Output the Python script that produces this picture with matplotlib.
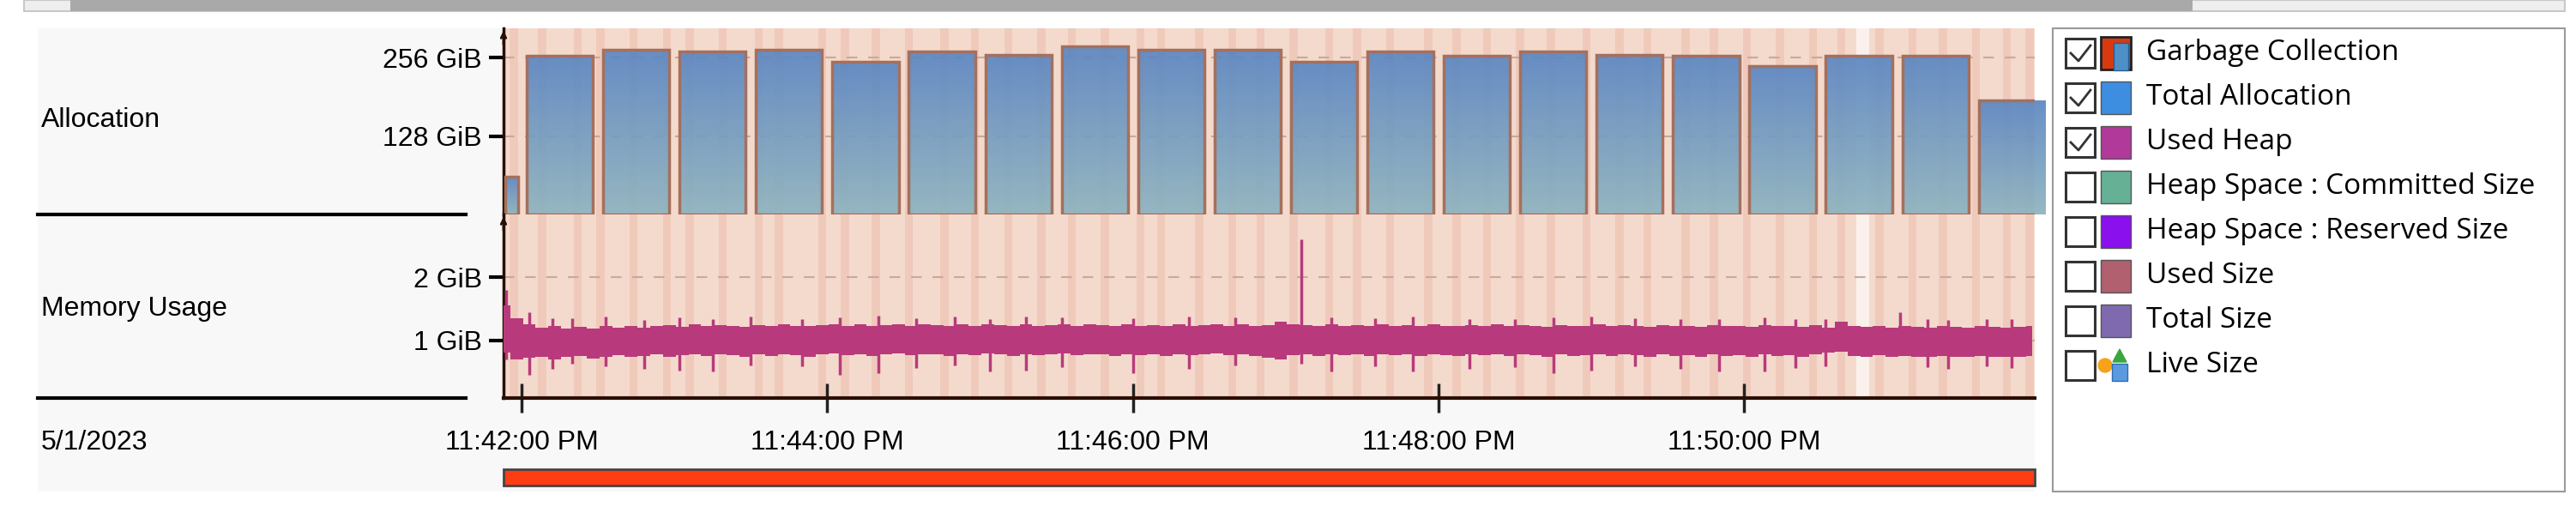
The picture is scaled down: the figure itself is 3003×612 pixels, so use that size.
import matplotlib
matplotlib.use("Agg")
import matplotlib.pyplot as plt
import numpy as np
from matplotlib.patches import Rectangle, Circle, Polygon

W, H = 3003, 612
FONT = "Liberation Sans"
UI_FONT = "Open Sans"

# ---- données (temps en secondes depuis 23:42:00) ----
BAR_T = [-4] + [15 + 30 * i for i in range(20)]
BAR_W = [5] + [26] * 20
BAR_GIB = [62, 259, 269, 266, 269, 250, 266, 261, 274, 269, 269,
           250, 266, 259, 266, 261, 259, 243, 259, 259, 186]

MEM_T0, MEM_STEP = -7, 5
MEM_HIGH = [1.55, 1.35, 1.25, 1.20, 1.22, 1.18, 1.21, 1.19, 1.22, 1.20,
            1.23, 1.20, 1.22, 1.24, 1.21, 1.25, 1.22, 1.24, 1.23, 1.21,
            1.24, 1.22, 1.25, 1.23, 1.22, 1.24, 1.26, 1.23, 1.25, 1.22,
            1.24, 1.26, 1.23, 1.25, 1.24, 1.22, 1.25, 1.23, 1.26, 1.24,
            1.22, 1.25, 1.23, 1.24, 1.26, 1.23, 1.25, 1.24, 1.22, 1.25,
            1.23, 1.24, 1.22, 1.25, 1.23, 1.24, 1.26, 1.23, 1.25, 1.22,
            1.24, 1.30, 1.26, 1.24, 1.22, 1.25, 1.23, 1.24, 1.22, 1.25,
            1.23, 1.24, 1.22, 1.25, 1.23, 1.22, 1.24, 1.23, 1.25, 1.22,
            1.24, 1.23, 1.21, 1.24, 1.22, 1.23, 1.25, 1.22, 1.24, 1.23,
            1.21, 1.24, 1.22, 1.23, 1.21, 1.24, 1.22, 1.23, 1.21, 1.24,
            1.22, 1.23, 1.21, 1.24, 1.20, 1.30, 1.22, 1.21, 1.23, 1.20,
            1.22, 1.21, 1.20, 1.22, 1.21, 1.20, 1.22, 1.21, 1.20, 1.21, 1.22]
MEM_LOW = [0.80, 0.70, 0.72, 0.74, 0.70, 0.73, 0.75, 0.71, 0.74, 0.76,
           0.73, 0.75, 0.77, 0.74, 0.76, 0.78, 0.75, 0.77, 0.76, 0.74,
           0.77, 0.75, 0.78, 0.76, 0.74, 0.77, 0.79, 0.76, 0.78, 0.75,
           0.77, 0.79, 0.76, 0.78, 0.77, 0.75, 0.78, 0.76, 0.79, 0.77,
           0.75, 0.78, 0.76, 0.77, 0.79, 0.76, 0.78, 0.77, 0.75, 0.78,
           0.76, 0.77, 0.75, 0.78, 0.76, 0.77, 0.79, 0.76, 0.78, 0.75,
           0.72, 0.70, 0.76, 0.77, 0.75, 0.78, 0.76, 0.77, 0.75, 0.78,
           0.76, 0.77, 0.75, 0.78, 0.76, 0.75, 0.77, 0.76, 0.78, 0.75,
           0.77, 0.76, 0.74, 0.77, 0.75, 0.76, 0.78, 0.75, 0.77, 0.76,
           0.74, 0.77, 0.75, 0.76, 0.74, 0.77, 0.75, 0.76, 0.74, 0.77,
           0.75, 0.76, 0.74, 0.77, 0.80, 0.82, 0.75, 0.74, 0.76, 0.73,
           0.75, 0.74, 0.73, 0.75, 0.74, 0.73, 0.75, 0.74, 0.73, 0.74, 0.75]
SPIKE_T = [-6, 3, 12, 20, 33, 48, 62, 75, 90, 110, 125, 140, 155, 170, 184,
           198, 212, 240, 262, 280, 306, 318, 335, 350, 372, 390, 405, 420,
           437, 455, 470, 488, 500, 512, 541, 552, 560, 575, 585]
SPIKE_LO = [0.70, 0.45, 0.55, 0.62, 0.58, 0.55, 0.52, 0.50, 0.60, 0.58,
            0.45, 0.48, 0.56, 0.60, 0.50, 0.52, 0.57, 0.47, 0.55, 0.60,
            0.62, 0.50, 0.58, 0.50, 0.55, 0.57, 0.48, 0.52, 0.58, 0.55,
            0.50, 0.50, 0.56, 0.58, 0.80, 0.57, 0.55, 0.58, 0.56]
SPIKE_HI = [1.80, 1.45, 1.35, 1.35, 1.38, 1.32, 1.36, 1.34, 1.38, 1.33,
            1.36, 1.39, 1.35, 1.37, 1.34, 1.38, 1.36, 1.35, 1.37, 1.36,
            2.60, 1.36, 1.35, 1.38, 1.34, 1.33, 1.36, 1.37, 1.35, 1.33,
            1.34, 1.36, 1.33, 1.34, 1.45, 1.33, 1.32, 1.34, 1.33]

GC_DARK = [-3, 8, 22, 31, 44, 57, 66, 79, 93, 101, 118, 127, 139, 152, 166,
           178, 191, 204, 216, 229, 243, 251, 266, 279, 290, 303, 317, 328,
           341, 356, 367, 379, 392, 404, 418, 431, 442, 457, 468, 481, 494,
           507, 518, 533, 546, 558, 571, 583, 592]
GC_GAP = (524, 529)

TIME_TICKS = [0, 120, 240, 360, 480]
TIME_LABELS = ["11:42:00 PM", "11:44:00 PM", "11:46:00 PM",
               "11:48:00 PM", "11:50:00 PM"]
XLIM = (-7.1, 594)

LEGEND = ["Garbage Collection", "Total Allocation", "Used Heap",
          "Heap Space : Committed Size", "Heap Space : Reserved Size",
          "Used Size", "Total Size", "Live Size"]
LEGEND_CHECKED = [True, True, True, False, False, False, False, False]
LEGEND_COLORS = ["#d83a10", "#3d8de0", "#b0399a", "#66b095", "#8a10ee",
                 "#b0606e", "#7f6ab0", None]

X0, X1 = 587, 2372


def px_axes(fig, x0, y0, x1, y1, **kw):
    return fig.add_axes([x0 / W, 1 - y1 / H, (x1 - x0) / W, (y1 - y0) / H], **kw)


fig = plt.figure(figsize=(W / 100, H / 100), dpi=100, facecolor="white")

# décor en pixels
bg = px_axes(fig, 0, 0, W, H)
bg.set_xlim(0, W)
bg.set_ylim(H, 0)
bg.axis("off")
bg.add_patch(Rectangle((44, 33), X1 - 44, 540, color="#f8f8f8", lw=0))
bg.add_patch(Rectangle((28, 0), 2962, 13, facecolor="#eeeeee", edgecolor="#c8c8c8", lw=1.5))
bg.add_patch(Rectangle((82, 0), 2474, 13, color="#a9a9a9", lw=0))
for y in (250, 464):
    bg.plot([44, 543], [y, y], color="black", lw=3)
bg.text(48, 140, "Allocation", family=FONT, fontsize=23, va="center")
bg.text(48, 360, "Memory Usage", family=FONT, fontsize=23, va="center")
bg.text(48, 516, "5/1/2023", family=FONT, fontsize=23, va="center")

# légende
bg.add_patch(Rectangle((2393, 33), 597, 540, facecolor="white", edgecolor="#9a9a9a", lw=1.5))
for i, (name, chk, col) in enumerate(zip(LEGEND, LEGEND_CHECKED, LEGEND_COLORS)):
    yc = 62 + 52 * i
    bg.add_patch(Rectangle((2408, yc - 17), 34, 34, facecolor="white", edgecolor="#333333", lw=2.2))
    if chk:
        bg.plot([2414, 2423, 2437], [yc, yc + 9, yc - 9], color="#333333", lw=2)
    if col is not None:
        bg.add_patch(Rectangle((2449, yc - 19), 35, 38, facecolor=col,
                               edgecolor="#222222" if i == 0 else "#555555", lw=2 if i == 0 else 1))
    if i == 0:
        bg.add_patch(Rectangle((2464, yc - 12), 17, 32, facecolor="#4f8fc8", edgecolor="#2a5d8f", lw=1))
    if col is None:
        bg.add_patch(Circle((2454, yc), 8, color="#f7a21b"))
        bg.add_patch(Rectangle((2462, yc - 2), 18, 20, facecolor="#5a9be0", edgecolor="#2f6db0", lw=1))
        bg.add_patch(Polygon([[2463, yc - 4], [2471, yc - 19], [2479, yc - 4]], color="#3ca63c"))
    bg.text(2502, yc, name, family=UI_FONT, fontsize=24, va="center")

# barre rouge
bg.add_patch(Rectangle((X0, 547), X1 - X0, 19, facecolor="#ff3c14", edgecolor="#444444", lw=2))

ax1 = px_axes(fig, X0, 33, X1, 250)
ax2 = px_axes(fig, X0, 250, X1, 464)


def fond(ax):
    ax.set_facecolor("#f4dacd")
    for t in GC_DARK:
        ax.axvspan(t - 1.6, t + 1.6, color="#ecbca8", alpha=0.5, lw=0)
    ax.axvspan(*GC_GAP, color="#fbf1ec", lw=0)
    ax.set_xlim(*XLIM)
    for s in ("top", "right"):
        ax.spines[s].set_visible(False)
    ax.spines["left"].set_color("#2a0e00")
    ax.spines["left"].set_linewidth(2.5)
    ax.tick_params(axis="y", direction="out", length=12, width=3,
                   labelsize=23, pad=6)
    for lab in ax.get_yticklabels():
        lab.set_family(FONT)
    lo, hi = ax.get_ylim()
    ax.annotate("", xy=(XLIM[0], hi), xytext=(XLIM[0], hi - 0.1 * (hi - lo)),
                arrowprops=dict(arrowstyle="->", color="#2a0e00", lw=2))


ax1.set_ylim(0, 304)
grad = np.linspace(1, 0, 100).reshape(-1, 1)
cmap = matplotlib.colors.LinearSegmentedColormap.from_list("g", ["#8db3bf", "#5b86c2"])
for t, w, v in zip(BAR_T, BAR_W, BAR_GIB):
    r = ax1.bar(t, v, width=w, color="none", edgecolor="#a4705e", lw=2.5, zorder=3)[0]
    im = ax1.imshow(grad, extent=(t - w / 2, t + w / 2, 0, v), aspect="auto",
                    cmap=cmap, alpha=0.92, zorder=2)
    im.set_clip_path(r)
ax1.set_yticks([128, 256])
ax1.set_yticklabels(["128 GiB", "256 GiB"])
ax1.grid(axis="y", ls=(0, (6, 6)), color="#c9a99b", lw=1.5)
ax1.set_xticks([])
ax1.spines["bottom"].set_visible(False)
fond(ax1)

ax2.set_ylim(0.08, 3.0)
mt = MEM_T0 + MEM_STEP * np.arange(len(MEM_HIGH))
ax2.fill_between(mt, MEM_LOW, MEM_HIGH, step="mid", color="#b83a7c", lw=0, zorder=3)
ax2.vlines(SPIKE_T, SPIKE_LO, SPIKE_HI, color="#b83a7c", lw=2.5, zorder=3)
ax2.set_yticks([1, 2])
ax2.set_yticklabels(["1 GiB", "2 GiB"])
ax2.grid(axis="y", ls=(0, (6, 6)), color="#c9a99b", lw=1.5)
ax2.set_xticks(TIME_TICKS)
ax2.set_xticklabels([])
ax2.tick_params(axis="x", direction="inout", length=24, width=2.5, color="#222222")
ax2.spines["bottom"].set_color("#2a0e00")
ax2.spines["bottom"].set_linewidth(3)
fond(ax2)
for t, lab in zip(TIME_TICKS, TIME_LABELS):
    ax2.annotate(lab, xy=(t, 0), xycoords=("data", "figure pixels"),
                 xytext=(0, H - 516), textcoords="offset pixels",
                 ha="center", va="center", family=FONT, fontsize=23)

fig.savefig("out.png", dpi=100, facecolor="white")
